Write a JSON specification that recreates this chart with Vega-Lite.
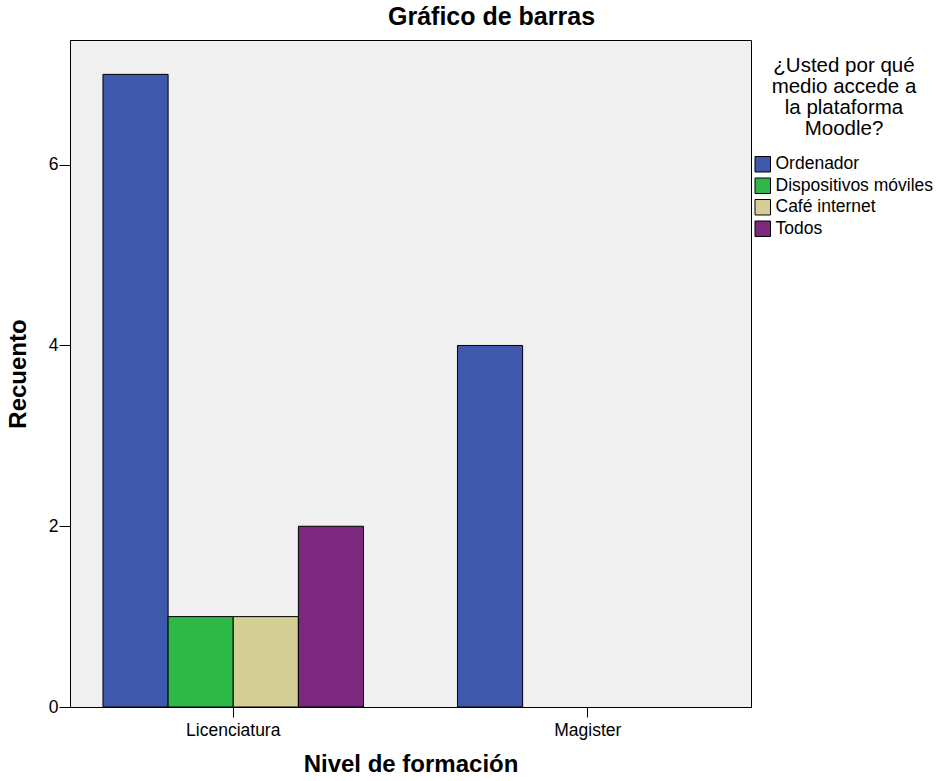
{
  "$schema": "https://vega.github.io/schema/vega-lite/v6.json",
  "autosize": {"type": "none"},
  "padding": {"left": 70, "top": 40, "right": 188, "bottom": 74},
  "width": 681,
  "height": 667,
  "background": "white",
  "title": {
    "text": "Gráfico de barras",
    "anchor": "start",
    "frame": "group",
    "dx": 318,
    "offset": 10,
    "font": "Liberation Sans",
    "fontSize": 25,
    "fontWeight": "bold",
    "color": "black"
  },
  "data": {
    "values": [
      {"nivel": "Licenciatura", "medio": "Ordenador", "recuento": 7},
      {"nivel": "Licenciatura", "medio": "Dispositivos móviles", "recuento": 1},
      {"nivel": "Licenciatura", "medio": "Café internet", "recuento": 1},
      {"nivel": "Licenciatura", "medio": "Todos", "recuento": 2},
      {"nivel": "Magister", "medio": "Ordenador", "recuento": 4}
    ]
  },
  "mark": {"type": "bar", "stroke": "black", "strokeWidth": 1, "opacity": 1},
  "encoding": {
    "x": {
      "field": "nivel",
      "type": "nominal",
      "title": "Nivel de formación",
      "scale": {"domain": ["Licenciatura", "Magister"], "paddingInner": 0.265, "paddingOuter": 0.093},
      "axis": {
        "labelAngle": 0,
        "labelFont": "Liberation Sans",
        "labelFontSize": 17.5,
        "labelColor": "black",
        "labelPadding": 4,
        "titleFont": "Liberation Sans",
        "titleFontSize": 24,
        "titleFontWeight": "bold",
        "titleColor": "black",
        "titlePadding": 14,
        "domainColor": "black",
        "tickColor": "black",
        "tickSize": 10
      }
    },
    "xOffset": {
      "field": "medio",
      "type": "nominal",
      "scale": {"domain": ["Ordenador", "Dispositivos móviles", "Café internet", "Todos"], "paddingInner": 0, "paddingOuter": 0}
    },
    "y": {
      "field": "recuento",
      "type": "quantitative",
      "title": "Recuento",
      "scale": {"domain": [0, 7.38], "nice": false},
      "axis": {
        "values": [0, 2, 4, 6],
        "grid": false,
        "labelFont": "Liberation Sans",
        "labelFontSize": 17.5,
        "labelColor": "black",
        "labelPadding": 1,
        "titleFont": "Liberation Sans",
        "titleFontSize": 24,
        "titleFontWeight": "bold",
        "titleColor": "black",
        "titlePadding": 18,
        "domainColor": "black",
        "tickColor": "black",
        "tickSize": 11
      }
    },
    "color": {
      "field": "medio",
      "type": "nominal",
      "scale": {
        "domain": ["Ordenador", "Dispositivos móviles", "Café internet", "Todos"],
        "range": ["#3E58AC", "#2EB848", "#D4CE97", "#7B287E"]
      },
      "legend": {
        "orient": "none",
        "legendX": 684,
        "legendY": 16,
        "title": ["¿Usted por qué", "medio accede a", "la plataforma", "Moodle?"],
        "titleFont": "Liberation Sans",
        "titleFontSize": 20.5,
        "titleFontWeight": "normal",
        "titleColor": "black",
        "titleLineHeight": 21,
        "titleAnchor": "middle",
        "titleAlign": "center",
        "titlePadding": 16,
        "labelFont": "Liberation Sans",
        "labelFontSize": 17.5,
        "labelColor": "black",
        "labelOffset": 4,
        "symbolType": "square",
        "symbolSize": 240,
        "symbolStrokeColor": "black",
        "symbolStrokeWidth": 1,
        "symbolOpacity": 1,
        "rowPadding": 1.5,
        "padding": 0
      }
    }
  },
  "config": {
    "view": {"fill": "#F0F0F0", "stroke": "black", "strokeWidth": 1}
  }
}
